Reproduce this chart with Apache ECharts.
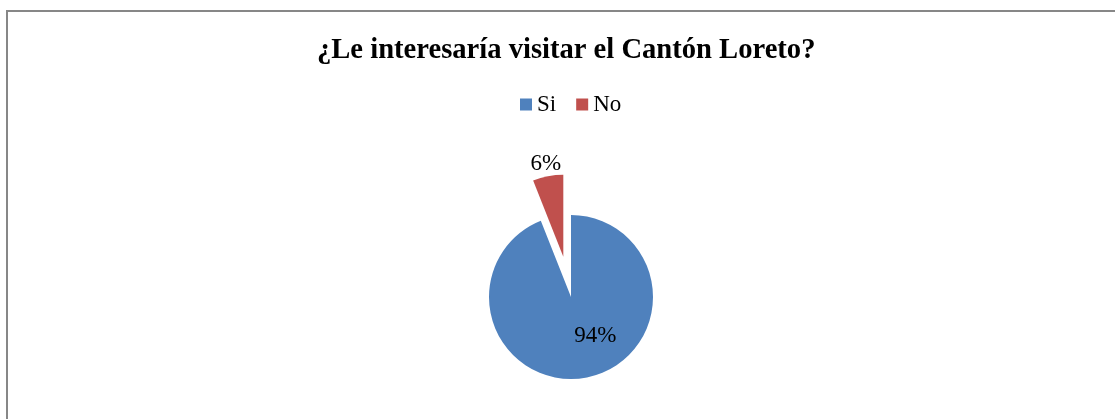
<!DOCTYPE html>
<html>
<head>
<meta charset="utf-8">
<script src="https://cdn.jsdelivr.net/npm/echarts@6/dist/echarts.min.js"></script>
<style>
html,body{margin:0;padding:0;background:#fff;}
#chart{width:1115px;height:419px;}
</style>
</head>
<body>
<div id="chart"></div>
<script>
var titleText = '¿Le interesaría visitar el Cantón Loreto?';
var categories = ['Si', 'No'];
var values = [94, 6];
var colors = ['#4F81BD', '#C0504D'];

var chart = echarts.init(document.getElementById('chart'), null, {renderer: 'canvas'});
var font = '"Liberation Serif", "Times New Roman", serif';

var data = categories.map(function (c, i) {
  var item = {name: c, value: values[i], itemStyle: {color: colors[i]}};
  if (i === 1) {
    item.selected = true;
    item.label = {position: 'outside'};
  }
  return item;
});

chart.setOption({
  animation: false,
  backgroundColor: '#fff',
  graphic: [{
    type: 'rect',
    shape: {x: 7, y: 11, width: 1300, height: 600},
    style: {fill: 'none', stroke: '#878787', lineWidth: 2},
    silent: true, z: -1
  }],
  title: {
    text: titleText,
    left: 312,
    top: 31,
    textStyle: {fontFamily: font, fontWeight: 'bold', fontSize: 28.6, color: '#000'}
  },
  legend: {
    data: categories,
    left: 515,
    top: 88,
    itemWidth: 12,
    itemHeight: 12,
    itemGap: 20,
    icon: 'rect',
    selectedMode: false,
    textStyle: {fontFamily: font, fontSize: 23, color: '#000', padding: [0, 0, 0, 0]}
  },
  series: [{
    type: 'pie',
    center: [571, 297],
    radius: 82,
    startAngle: 90,
    clockwise: true,
    selectedMode: 'single',
    selectedOffset: 41,
    avoidLabelOverlap: false,
    emphasis: {disabled: true},
    label: {
      show: true,
      position: 'inside',
      formatter: '{d}%',
      fontFamily: font,
      fontSize: 23,
      color: '#000'
    },
    labelLine: {show: false, length: 4, length2: 0},
    labelLayout: function (p) {
      return p.dataIndex === 0 ? {dx: 16, dy: -4} : {dx: 19, dy: -8};
    },
    data: data
  }]
});
</script>
</body>
</html>
